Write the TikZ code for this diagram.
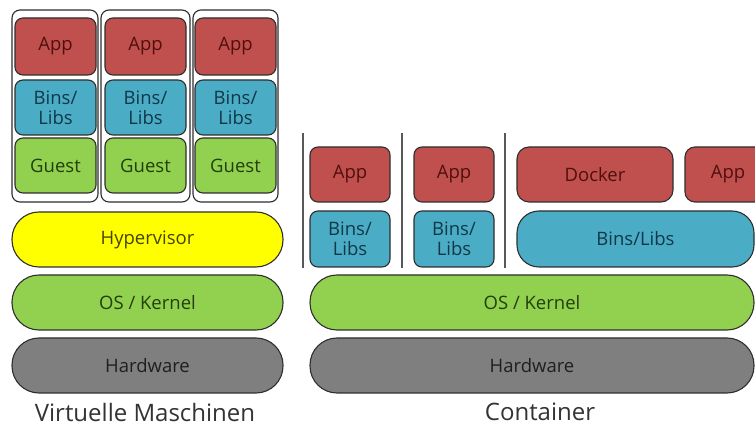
\documentclass[tikz,border=0pt]{standalone}
\usepackage{fontspec}
\setmainfont{Open Sans}
\definecolor{appfill}{HTML}{C0504D}
\definecolor{apptext}{HTML}{4F100E}
\definecolor{binfill}{HTML}{4BACC6}
\definecolor{bintext}{HTML}{103848}
\definecolor{grnfill}{HTML}{92D050}
\definecolor{grntext}{HTML}{233F0B}
\definecolor{yelfill}{HTML}{FFFF00}
\definecolor{yeltext}{HTML}{454500}
\definecolor{hwfill}{HTML}{7F7F7F}
\definecolor{hwtext}{HTML}{1F1F1F}
\definecolor{edge}{HTML}{2E2E2E}
\definecolor{captext}{HTML}{333333}
\tikzset{
  blk/.style={rectangle, draw=edge, line width=1.1pt, inner sep=0pt, align=center,
    font=\fontsize{18.5}{20}\selectfont},
  appbox/.style={blk, fill=appfill, text=apptext, rounded corners=8pt},
  binbox/.style={blk, fill=binfill, text=bintext, rounded corners=8pt},
  guestbox/.style={blk, fill=grnfill, text=grntext, rounded corners=8pt},
  pill/.style={blk, rounded corners=27pt, minimum height=55pt},
  frame/.style={rectangle, draw=edge, line width=1.1pt, fill=white, rounded corners=8pt, inner sep=0pt},
  caption/.style={font=\fontsize{24}{28}\selectfont, text=captext},
  sep/.style={draw=edge!80, line width=1.3pt}
}
\begin{document}
\begin{tikzpicture}[x=1pt,y=-1pt]
\useasboundingbox (0,0) rectangle (755,427);
\clip (0,0) rectangle (755,427);
% VM frames
\node[frame, minimum width=86pt, minimum height=192pt] (f1) at (55,106) {};
\node[frame, minimum width=89pt, minimum height=192pt] (f2) at (145.5,106) {};
\node[frame, minimum width=85pt, minimum height=192pt] (f3) at (235.5,106) {};
% VM stacks
\foreach \i/\cx in {1/55.5, 2/145.5, 3/235.5}{
  \node[appbox, minimum width=81pt, minimum height=57pt] (va\i) at (\cx,46.5) {App};
  \node[binbox, minimum width=81pt, minimum height=55pt] (vb\i) at (\cx,107.5) {Bins/\\Libs};
  \node[guestbox, minimum width=81pt, minimum height=55pt] (vg\i) at (\cx,165.5) {Guest};
}
\node[pill, fill=yelfill, text=yeltext, minimum width=271pt] (hyp) at (147.5,239.5) {Hypervisor};
\node[pill, fill=grnfill, text=grntext, minimum width=271pt] (vos) at (147.5,302.5) {OS / Kernel};
\node[pill, fill=hwfill, text=hwtext, minimum width=271pt] (vhw) at (147.5,365.5) {Hardware};
\node[caption] (vcap) at (145,412) {Virtuelle Maschinen};
% Container separators
\draw[sep] (303,133) -- (303,268);
\draw[sep] (402,133) -- (402,268);
\draw[sep] (505,133) -- (505,268);
% Container stacks
\node[appbox, minimum width=80pt, minimum height=55pt] (ca1) at (350,174.5) {App};
\node[binbox, minimum width=80pt, minimum height=56pt] (cb1) at (350,239) {Bins/\\Libs};
\node[appbox, minimum width=80pt, minimum height=55pt] (ca2) at (454,174.5) {App};
\node[binbox, minimum width=80pt, minimum height=56pt] (cb2) at (454,239) {Bins/\\Libs};
\node[appbox, rounded corners=12pt, minimum width=156pt, minimum height=55pt] (dock) at (595,174.5) {Docker};
\node[appbox, rounded corners=10pt, minimum width=86pt, minimum height=55pt] (ca3) at (728,174.5) {App};
\node[binbox, rounded corners=22pt, minimum width=237pt, minimum height=56pt] (cbw) at (635.5,239) {Bins/Libs};
\node[pill, fill=grnfill, text=grntext, minimum width=444pt] (cos) at (532,302.5) {OS / Kernel};
\node[pill, fill=hwfill, text=hwtext, minimum width=444pt] (chw) at (532,365.5) {Hardware};
\node[caption] (ccap) at (540,412) {Container};
\end{tikzpicture}
\end{document}
